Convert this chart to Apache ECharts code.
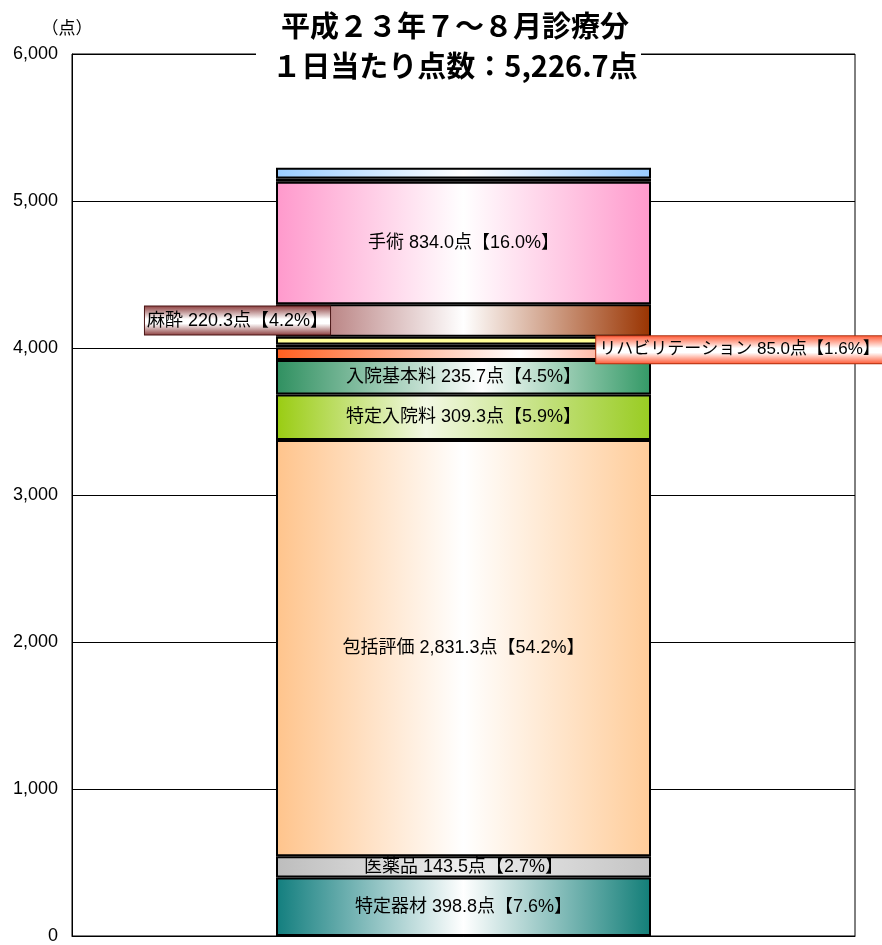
<!DOCTYPE html>
<html>
<head>
<meta charset="utf-8">
<script src="https://cdn.jsdelivr.net/npm/echarts@6/dist/echarts.min.js"></script>
<style>
  html, body { margin: 0; padding: 0; background: #fff; }
  #chart { width: 882px; height: 945px; }
</style>
</head>
<body>
<div id="chart"></div>
<script>
  // データ（下から積み上げ順）
  var categories = ['合計'];
  var segNames = ['特定器材', '医薬品', '包括評価', '特定入院料', '入院基本料', 'リハビリテーション',
                  'その他1', 'その他2', '麻酔', '手術', 'その他3', 'その他4'];
  var segValues = [398.8, 143.5, 2831.3, 309.3, 235.7, 85.0, 20.0, 53.0, 220.3, 834.0, 22.0, 73.8];
  var segLabeled = [true, true, true, true, true, true, false, false, true, true, false, false];
  var yTicks = [0, 1000, 2000, 3000, 4000, 5000, 6000];

  var total = segValues.reduce(function (a, b) { return a + b; }, 0);
  var fmt1 = function (v) {
      return v.toLocaleString('en-US', {minimumFractionDigits: 1, maximumFractionDigits: 1});
  };

  // 横方向グラデーション
  function hGrad(c0, mid, pos, c1) {
      return new echarts.graphic.LinearGradient(0, 0, 1, 0, [
          {offset: 0, color: c0},
          {offset: pos, color: mid},
          {offset: 1, color: c1}
      ]);
  }
  function vGrad(edge, mid) {
      return new echarts.graphic.LinearGradient(0, 0, 0, 1, [
          {offset: 0, color: edge},
          {offset: 0.45, color: mid},
          {offset: 0.6, color: mid},
          {offset: 1, color: edge}
      ]);
  }

  var fills = [
      hGrad('#127e7e', '#ffffff', 0.5, '#127e78'),
      hGrad('#bdbdbd', '#eeeeee', 0.5, '#c4c4c4'),
      hGrad('#ffc48c', '#ffffff', 0.5, '#ffcc99'),
      hGrad('#99cc11', '#f2f8e4', 0.4, '#99cc22'),
      hGrad('#2f9060', '#ffffff', 0.55, '#339966'),
      hGrad('#ff5f1f', '#ffffff', 0.65, '#ff8a6a'),
      '#111111',
      '#ffff99',
      hGrad('#a05555', '#ffffff', 0.5, '#993300'),
      hGrad('#ff99cc', '#ffffff', 0.5, '#ff99cc'),
      '#cc00cc',
      hGrad('#99ccff', '#ffffff', 0.5, '#99ccff')
  ];

  var labelFont = '"Liberation Sans", "Noto Sans CJK JP", sans-serif';

  var series = segNames.map(function (name, i) {
      var label = {
          show: segLabeled[i],
          position: 'inside',
          color: '#000',
          fontSize: 18,
          fontFamily: labelFont,
          formatter: function (p) {
              return p.seriesName + ' ' + fmt1(p.value) + '点【' + (p.value / total * 100).toFixed(1) + '%】';
          }
      };
      if (name === '麻酔') {
          label.offset = [-226, 0];
          label.backgroundColor = vGrad('#8a3a3a', '#ffffff');
          label.borderColor = '#4a1515';
          label.borderWidth = 1;
          label.padding = [6, 2, 4, 2];
      }
      if (name === 'リハビリテーション') {
          label.fontSize = 17;
          label.offset = [276, -4];
          label.backgroundColor = vGrad('#ff5530', '#ffffff');
          label.borderColor = '#b03010';
          label.borderWidth = 1;
          label.padding = [6, 3, 4, 3];
      }
      return {
          name: name,
          type: 'bar',
          stack: 'total',
          barWidth: 375,
          data: [segValues[i]],
          itemStyle: {color: fills[i], borderColor: '#000', borderWidth: 2},
          label: label
      };
  });

  var myChart = echarts.init(document.getElementById('chart'), null, {renderer: 'canvas'});
  myChart.setOption({
      animation: false,
      backgroundColor: '#fff',
      grid: {
          left: 72, right: 27, top: 54, bottom: 7,
          show: true, borderColor: '#000', borderWidth: 1
      },
      xAxis: {
          type: 'category',
          data: categories,
          axisLine: {show: true, lineStyle: {color: '#000'}},
          axisTick: {show: false},
          axisLabel: {show: false}
      },
      yAxis: {
          type: 'value',
          min: yTicks[0],
          max: yTicks[yTicks.length - 1],
          interval: 1000,
          axisLine: {show: true, lineStyle: {color: '#000'}},
          axisTick: {show: false},
          splitLine: {show: true, lineStyle: {color: '#000', width: 1}},
          axisLabel: {
              color: '#000',
              fontSize: 18,
              fontFamily: '"Liberation Sans", Arial, sans-serif',
              margin: 14,
              formatter: function (v) { return v.toLocaleString('en-US'); }
          }
      },
      graphic: [
          {type: 'rect', left: 256, top: 44, shape: {width: 385, height: 24}, style: {fill: '#fff'}, z: 100},
          {
              type: 'text', x: 455, y: 26, z: 101,
              style: {
                  text: '平成２３年７～８月診療分', fill: '#000',
                  font: 'bold 29px "Noto Sans CJK JP", sans-serif',
                  align: 'center', verticalAlign: 'middle'
              }
          },
          {
              type: 'text', x: 455, y: 66, z: 101,
              style: {
                  text: '１日当たり点数：' + fmt1(total) + '点', fill: '#000',
                  font: 'bold 29px "Noto Sans CJK JP", sans-serif',
                  align: 'center', verticalAlign: 'middle'
              }
          },
          {
              type: 'text', x: 67, y: 28, z: 101,
              style: {
                  text: '（点）', fill: '#000',
                  font: '17px "Noto Sans CJK JP", sans-serif',
                  align: 'center', verticalAlign: 'middle'
              }
          }
      ],
      series: series
  });
</script>
</body>
</html>
